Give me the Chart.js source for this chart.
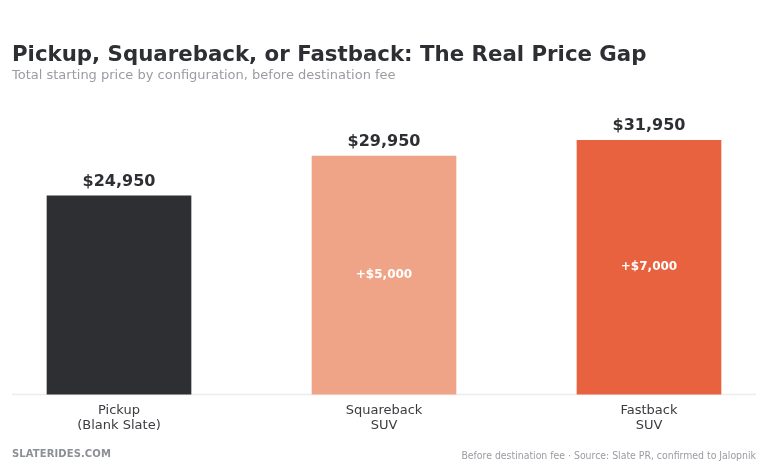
<!DOCTYPE html>
<html>
<head>
<meta charset="utf-8">
<script src="https://cdn.jsdelivr.net/npm/chart.js@4.4.1/dist/chart.umd.min.js"></script>
<style>
  html, body { margin: 0; padding: 0; background: #ffffff; }
  body { width: 768px; height: 469px; position: relative; overflow: hidden; font-family: "DejaVu Sans", sans-serif; }
  #wrap { position: absolute; left: 0; top: 0; width: 768px; height: 469px; }
  .t { position: absolute; white-space: nowrap; line-height: 1; }
  #title { left: 12px; top: 43px; font-size: 21.3px; font-weight: bold; color: #2d2f33; }
  #sub { left: 12px; top: 68px; font-size: 13px; color: #9a9ca2; }
  #foot1 { left: 12px; top: 448.5px; font-size: 10px; font-weight: bold; color: #8c8f95; letter-spacing: 0.1px; }
  #foot2 { right: 12px; top: 450px; font-family: "DejaVu Sans Condensed", "DejaVu Sans", sans-serif; font-stretch: condensed; font-size: 10.4px; color: #9a9ca2; }
</style>
</head>
<body>
<div id="wrap"><canvas id="c" width="768" height="469"></canvas></div>
<div class="t" id="title">Pickup, Squareback, or Fastback: The Real Price Gap</div>
<div class="t" id="sub">Total starting price by configuration, before destination fee</div>
<div class="t" id="foot1">SLATERIDES.COM</div>
<div class="t" id="foot2">Before destination fee · Source: Slate PR, confirmed to Jalopnik</div>
<script>
const categories = [["Pickup", "(Blank Slate)"], ["Squareback", "SUV"], ["Fastback", "SUV"]];
const prices = [24950, 29950, 31950];
const deltas = [null, 5000, 7000];
const barColors = ["#2d2f33", "#f0a487", "#e8623f"];
const yMin = 0;
const yMax = 35000;

const fmt = v => "$" + v.toLocaleString("en-US");

const labelPlugin = {
  id: "labels",
  beforeDatasetsDraw(chart) {
    const ctx = chart.ctx;
    const y0 = chart.scales.y.getPixelForValue(0);
    ctx.save();
    ctx.strokeStyle = "#ececee";
    ctx.lineWidth = 1.5;
    ctx.beginPath();
    ctx.moveTo(12, y0 + 0.5);
    ctx.lineTo(756, y0 + 0.5);
    ctx.stroke();
    ctx.restore();
  },
  afterDatasetsDraw(chart) {
    const ctx = chart.ctx;
    const meta = chart.getDatasetMeta(0);
    ctx.save();
    ctx.textAlign = "center";
    meta.data.forEach((bar, i) => {
      ctx.fillStyle = "#2d2f33";
      ctx.font = "bold 16px 'DejaVu Sans'";
      ctx.textBaseline = "bottom";
      ctx.fillText(fmt(prices[i]), bar.x, bar.y - 6);
      if (deltas[i] != null) {
        ctx.fillStyle = "#ffffff";
        ctx.font = "bold 12px 'DejaVu Sans'";
        ctx.textBaseline = "middle";
        ctx.fillText("+" + fmt(deltas[i]), bar.x, (bar.y + bar.base) / 2);
      }
    });
    ctx.restore();
  }
};

new Chart(document.getElementById("c"), {
  type: "bar",
  data: {
    labels: categories,
    datasets: [{
      data: prices,
      backgroundColor: barColors,
      borderWidth: 0,
      barThickness: 144,
      clip: false
    }]
  },
  options: {
    responsive: false,
    animation: false,
    devicePixelRatio: 1,
    layout: { padding: { left: 119, right: 119, top: 116, bottom: 27 } },
    plugins: { legend: { display: false }, tooltip: { enabled: false }, title: { display: false } },
    scales: {
      x: {
        offset: false,
        grid: { display: false, drawTicks: false },
        border: { display: false },
        ticks: { color: "#3a3c40", font: { family: "DejaVu Sans", size: 13, lineHeight: 1.15 }, padding: 9, maxRotation: 0, autoSkip: false }
      },
      y: {
        display: false,
        min: yMin,
        max: yMax
      }
    }
  },
  plugins: [labelPlugin]
});
</script>
</body>
</html>
